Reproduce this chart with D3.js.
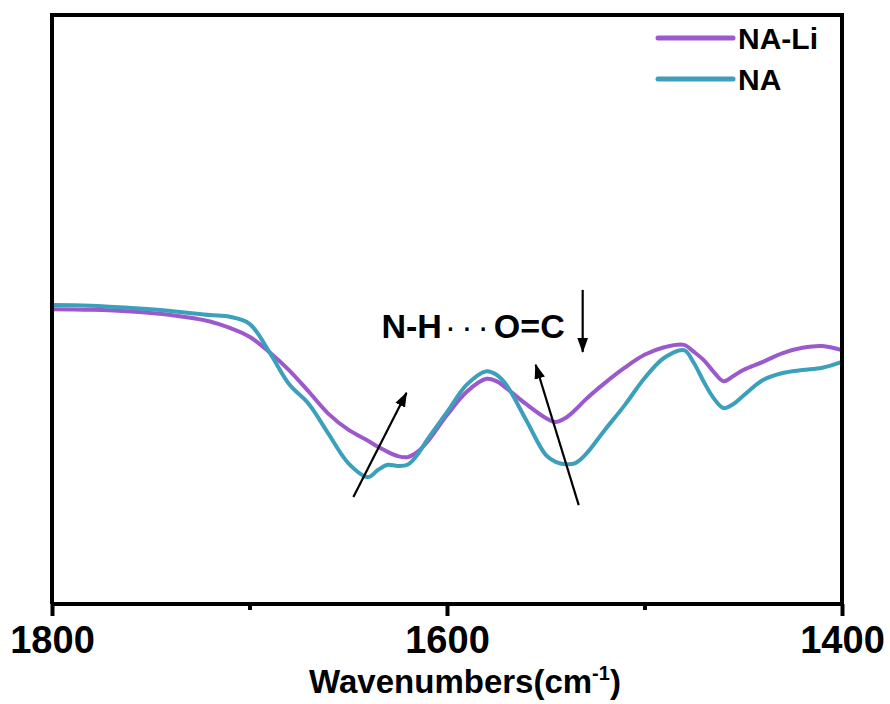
<!DOCTYPE html>
<html>
<head>
<meta charset="utf-8">
<script src="https://cdn.jsdelivr.net/npm/d3@7"></script>
<style>
  body { margin: 0; background: #fff; }
  text { font-family: "Liberation Sans", Arial, sans-serif; font-weight: bold; }
</style>
</head>
<body>
<div id="chart"></div>
<script>
// wavenumbers (cm-1) shared by both spectra
var wavenumbers = [1800, 1780, 1760, 1740, 1720, 1710, 1700, 1690, 1680, 1670, 1660, 1650,
  1640, 1635, 1630, 1625, 1620, 1615, 1610, 1600, 1590, 1580, 1575, 1570, 1560, 1550,
  1545, 1540, 1535, 1530, 1520, 1510, 1500, 1490, 1480, 1475, 1470, 1465, 1460, 1455,
  1450, 1440, 1430, 1420, 1410, 1400];

// NA-Li (purple)
var naLi = [49.7, 49.6, 49.3, 48.7, 47.6, 46.5, 45.0, 42.4, 39.3, 35.6, 31.8, 29.1,
  27.2, 26.2, 25.3, 24.6, 24.4, 25.3, 27.0, 31.6, 35.6, 37.8, 37.4, 36.2, 33.5, 31.1,
  30.4, 31.1, 32.5, 34.2, 37.1, 39.7, 41.9, 43.2, 43.6, 42.4, 41.0, 39.0, 37.4, 38.3,
  39.3, 40.7, 42.2, 43.1, 43.4, 42.7];

// NA (cyan)
var na = [50.4, 50.3, 49.9, 49.4, 48.7, 48.4, 47.2, 42.4, 36.9, 33.5, 28.4, 23.4,
  21.0, 22.2, 23.1, 22.9, 23.1, 24.8, 27.4, 32.1, 36.8, 39.1, 38.5, 36.8, 30.8, 24.8,
  23.6, 23.2, 23.4, 24.8, 29.1, 33.3, 37.9, 41.4, 42.7, 40.5, 37.3, 34.5, 32.8, 33.5,
  34.9, 37.6, 38.8, 39.3, 39.7, 40.7];

var seriesNames = ["NA-Li", "NA"];
var seriesColors = ["#9b59cc", "#3c9fbc"];

var majorTicks = [1800, 1600, 1400];
var minorTicks = [1700, 1500];

// arrows: [from wn, from value, to wn, to value]
var arrows = [
  [1647.4, 17.6, 1620.5, 35.4],
  [1533.3, 16.2, 1555.1, 40.2],
  [1531.3, 53.0, 1531.3, 42.4]
];
var labelText = ["N-H", "\u00b7\u00b7\u00b7", "O=C"];

var W = 890, H = 704;
var margin = { top: 15, right: 48, bottom: 100, left: 52 };
var width = W - margin.left - margin.right,
  height = H - margin.top - margin.bottom;

var svg = d3.select("#chart").append("svg")
  .attr("width", W).attr("height", H);

var g = svg.append("g")
  .attr("transform", `translate(${margin.left}, ${margin.top})`);

var x = d3.scaleLinear().domain([1800, 1400]).range([0, width]);
var y = d3.scaleLinear().domain([-0.7, 100]).range([height, 0]);

var line = d3.line()
  .x(function (d) { return x(d[0]); })
  .y(function (d) { return y(d[1]); })
  .curve(d3.curveCatmullRom.alpha(0.5));

[naLi, na].forEach(function (vals, i) {
  g.append("path")
    .datum(wavenumbers.map(function (w, j) { return [w, vals[j]]; }))
    .attr("fill", "none")
    .attr("stroke", seriesColors[i])
    .attr("stroke-width", 4)
    .attr("stroke-linejoin", "round")
    .attr("d", line);
});

// frame (left, top, right)
g.append("path")
  .attr("d", `M0,${height} V0 H${width} V${height}`)
  .attr("fill", "none")
  .attr("stroke", "#000")
  .attr("stroke-width", 4);

// bottom axis
var xAxis = d3.axisBottom(x).tickValues(majorTicks).tickSize(12).tickPadding(10)
  .tickFormat(d3.format("d"));
var ax = g.append("g").attr("transform", `translate(0, ${height})`).call(xAxis);
ax.select(".domain").attr("stroke-width", 4).attr("d", `M0,0H${width}`);
ax.selectAll(".tick line").attr("stroke-width", 4);
ax.selectAll(".tick text").style("font-size", "38px").attr("fill", "#000");

var minor = d3.axisBottom(x).tickValues(minorTicks).tickSize(6).tickFormat("");
var mx = g.append("g").attr("transform", `translate(0, ${height})`).call(minor);
mx.select(".domain").remove();
mx.selectAll(".tick line").attr("stroke-width", 4);

// axis title
var title = svg.append("text")
  .attr("x", margin.left + width / 2 + 18)
  .attr("y", 693)
  .attr("text-anchor", "middle")
  .style("font-size", "33px");
title.append("tspan").text("Wavenumbers(cm");
title.append("tspan").attr("dy", -13).style("font-size", "20px").text("-1");
title.append("tspan").attr("dy", 13).text(")");

// legend
seriesNames.forEach(function (name, i) {
  var ly = 38 + i * 41;
  svg.append("line")
    .attr("x1", 658).attr("x2", 733)
    .attr("y1", ly).attr("y2", ly)
    .attr("stroke", seriesColors[i])
    .attr("stroke-width", 5)
    .attr("stroke-linecap", "round");
  svg.append("text")
    .attr("x", 738).attr("y", ly + 11)
    .style("font-size", "30px")
    .text(name);
});

// annotation
svg.append("defs").append("marker")
  .attr("id", "head")
  .attr("viewBox", "0 0 14 10")
  .attr("refX", 13).attr("refY", 5)
  .attr("markerWidth", 15).attr("markerHeight", 11)
  .attr("markerUnits", "userSpaceOnUse")
  .attr("orient", "auto")
  .append("path").attr("d", "M0,0 L14,5 L0,10 z").attr("fill", "#000");

arrows.forEach(function (a) {
  g.append("line")
    .attr("x1", x(a[0])).attr("y1", y(a[1]))
    .attr("x2", x(a[2])).attr("y2", y(a[3]))
    .attr("stroke", "#000")
    .attr("stroke-width", 2.2)
    .attr("marker-end", "url(#head)");
});

var lbl = g.append("text")
  .attr("x", x(1633.2)).attr("y", y(45.3) + 3)
  .style("font-size", "34px");
lbl.append("tspan").text(labelText[0]);
lbl.append("tspan").attr("dx", 3).style("font-weight", "normal")
  .style("letter-spacing", "5px").text(labelText[1]);
lbl.append("tspan").text(labelText[2]);
</script>
</body>
</html>
